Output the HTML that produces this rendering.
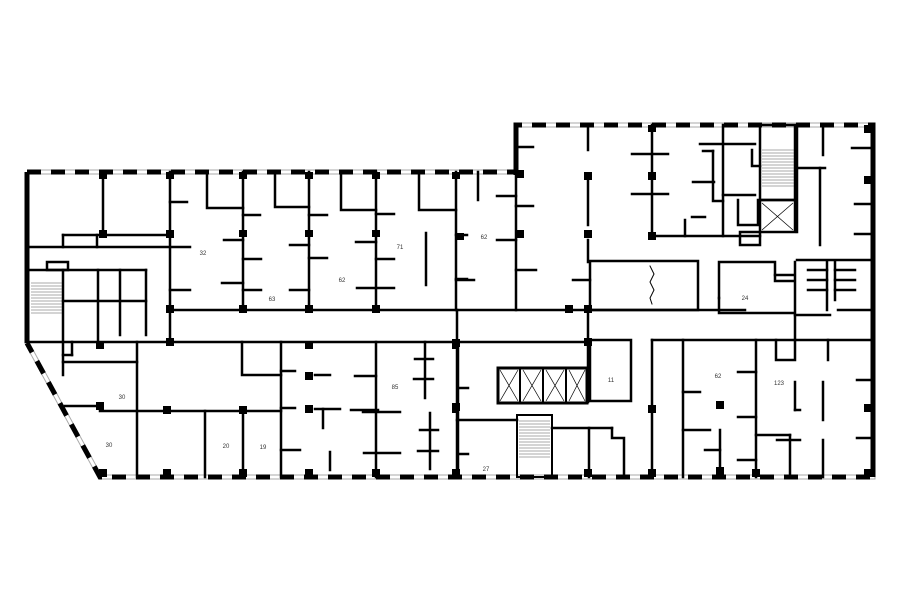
<!DOCTYPE html>
<html><head><meta charset="utf-8"><style>
html,body{margin:0;padding:0;background:#fff;}
svg{display:block;}
text{font-family:"Liberation Sans",sans-serif;font-size:6px;fill:#333;text-anchor:middle;}
</style></head><body>
<svg width="900" height="604" viewBox="0 0 900 604" xmlns="http://www.w3.org/2000/svg">
<rect width="900" height="604" fill="#fff"/>
<!-- outer outline with windows -->
<g fill="none">
<polyline points="27,172 516,172 516,125 873,125 873,477 100,477 27,343 27,172" stroke="#aaa" stroke-width="5"/>
<polyline points="27,172 516,172 516,125 873,125 873,477 100,477 27,343 27,172" stroke="#fff" stroke-width="3"/>
<polyline points="27,172 516,172 516,125 873,125 873,477 100,477 27,343" stroke="#000" stroke-width="5" stroke-dasharray="14,10"/>
<line x1="27" y1="172" x2="27" y2="343" stroke="#000" stroke-width="5"/>
<line x1="873" y1="125" x2="873" y2="477" stroke="#000" stroke-width="5"/>
<line x1="516" y1="125" x2="516" y2="175" stroke="#000" stroke-width="5"/>
</g>
<g stroke="#000" stroke-width="2.5" fill="none" stroke-linecap="square">
<!-- left wing -->
<line x1="103" y1="172" x2="103" y2="235"/>
<line x1="170" y1="172" x2="170" y2="342"/>
<line x1="63" y1="235" x2="170" y2="235"/>
<polyline points="63,247 63,235"/><line x1="97" y1="235" x2="97" y2="247"/>
<line x1="27" y1="247" x2="190" y2="247"/>
<line x1="27" y1="270" x2="146" y2="270"/>
<rect x="47" y="262" width="21" height="8"/>
<line x1="63" y1="270" x2="63" y2="375"/>
<line x1="98" y1="270" x2="98" y2="342"/>
<line x1="120" y1="270" x2="120" y2="335"/>
<line x1="146" y1="270" x2="146" y2="335"/>
<line x1="63" y1="301" x2="146" y2="301"/>
<line x1="27" y1="342" x2="170" y2="342"/>
<line x1="72" y1="342" x2="72" y2="355"/><line x1="63" y1="355" x2="72" y2="355"/>
<line x1="63" y1="362" x2="137" y2="362"/>
<line x1="137" y1="342" x2="137" y2="477"/>
<line x1="65" y1="406" x2="100" y2="406"/>
<line x1="100" y1="411" x2="281" y2="411"/>
<line x1="205" y1="411" x2="205" y2="477"/>
<line x1="243" y1="411" x2="243" y2="477"/>
<line x1="281" y1="342" x2="281" y2="477"/>
<polyline points="242,342 242,375 281,375"/>
<line x1="376" y1="342" x2="376" y2="477"/>
<line x1="458" y1="342" x2="458" y2="477"/>
<!-- corridor -->
<line x1="170" y1="310" x2="745" y2="310"/>
<line x1="170" y1="342" x2="588" y2="342"/>
<line x1="652" y1="340" x2="870" y2="340"/>
<!-- upper rooms left -->
<line x1="243" y1="172" x2="243" y2="310"/>
<line x1="309" y1="172" x2="309" y2="310"/>
<line x1="376" y1="172" x2="376" y2="310"/>
<line x1="456" y1="172" x2="456" y2="310"/>
<polyline points="207,172 207,208 243,208"/>
<polyline points="275,172 275,207 309,207"/>
<polyline points="341,172 341,210 376,210"/>
<polyline points="419,172 419,210 456,210"/>
<line x1="170" y1="202" x2="187" y2="202"/><line x1="170" y1="290" x2="190" y2="290"/>
<line x1="224" y1="240" x2="243" y2="240"/><line x1="222" y1="283" x2="243" y2="283"/>
<line x1="243" y1="215" x2="260" y2="215"/><line x1="243" y1="259" x2="261" y2="259"/><line x1="243" y1="290" x2="261" y2="290"/>
<line x1="290" y1="245" x2="309" y2="245"/><line x1="290" y1="290" x2="309" y2="290"/>
<line x1="309" y1="215" x2="327" y2="215"/><line x1="309" y1="258" x2="327" y2="258"/>
<line x1="356" y1="242" x2="376" y2="242"/><line x1="357" y1="288" x2="394" y2="288"/>
<line x1="376" y1="214" x2="394" y2="214"/><line x1="376" y1="259" x2="394" y2="259"/>
<line x1="426" y1="233" x2="426" y2="285"/>
<line x1="456" y1="235" x2="467" y2="235"/><line x1="456" y1="279" x2="467" y2="279"/>
<line x1="478" y1="172" x2="478" y2="200"/>
<line x1="497" y1="196" x2="516" y2="196"/><line x1="497" y1="240" x2="516" y2="240"/>
<line x1="456" y1="280" x2="474" y2="280"/>
<!-- lower left rooms -->
<line x1="281" y1="371" x2="295" y2="371"/><line x1="281" y1="408" x2="295" y2="408"/><line x1="281" y1="450" x2="300" y2="450"/>
<line x1="315" y1="375" x2="330" y2="375"/><line x1="315" y1="409" x2="340" y2="409"/>
<line x1="323" y1="409" x2="323" y2="428"/><line x1="330" y1="452" x2="330" y2="470"/>
<line x1="355" y1="376" x2="376" y2="376"/><line x1="351" y1="410" x2="378" y2="410"/>
<line x1="363" y1="412" x2="400" y2="412"/><line x1="364" y1="453" x2="400" y2="453"/>
<line x1="425" y1="342" x2="425" y2="398"/><line x1="415" y1="359" x2="433" y2="359"/><line x1="414" y1="379" x2="433" y2="379"/>
<line x1="430" y1="413" x2="430" y2="469"/><line x1="420" y1="430" x2="438" y2="430"/><line x1="418" y1="451" x2="438" y2="451"/>
<line x1="458" y1="388" x2="468" y2="388"/><line x1="458" y1="454" x2="468" y2="454"/>
<!-- right block -->
<line x1="516" y1="172" x2="516" y2="310"/>
<line x1="516" y1="147" x2="533" y2="147"/><line x1="516" y1="206" x2="533" y2="206"/><line x1="516" y1="270" x2="536" y2="270"/>
<line x1="588" y1="125" x2="588" y2="150"/><line x1="588" y1="180" x2="588" y2="225"/><line x1="588" y1="240" x2="588" y2="262"/>
<line x1="573" y1="280" x2="590" y2="280"/>
<line x1="652" y1="125" x2="652" y2="236"/>
<line x1="632" y1="154" x2="668" y2="154"/><line x1="632" y1="194" x2="668" y2="194"/>
<line x1="693" y1="182" x2="714" y2="182"/><line x1="692" y1="217" x2="705" y2="217"/>
<line x1="652" y1="236" x2="760" y2="236"/>
<line x1="685" y1="220" x2="685" y2="236"/>
<line x1="723" y1="125" x2="723" y2="236"/>
<line x1="700" y1="144" x2="755" y2="144"/>
<polyline points="713,151 713,201 723,201"/>
<polyline points="703,151 713,151"/>
<line x1="723" y1="195" x2="755" y2="195"/><polyline points="738,200 738,225 758,225 758,200"/>
<polyline points="752,150 752,166 760,166"/>
<rect x="760" y="125" width="35" height="75"/>
<rect x="760" y="200" width="35" height="32"/>
<rect x="740" y="232" width="20" height="13"/>
<line x1="797" y1="125" x2="797" y2="232"/>
<line x1="797" y1="168" x2="825" y2="168"/>
<line x1="820" y1="168" x2="820" y2="245"/>
<line x1="823" y1="125" x2="823" y2="155"/>
<line x1="852" y1="148" x2="873" y2="148"/><line x1="855" y1="204" x2="873" y2="204"/><line x1="855" y1="234" x2="873" y2="234"/>
<rect x="590" y="261" width="108" height="49"/>
<polyline points="650,266 654,274 650,282 654,290 650,298 652,304" stroke-width="1"/>
<polyline points="719,298 719,262 775,262 775,275 793,275"/>
<polyline points="775,275 775,281 793,281"/>
<polyline points="719,298 719,313 793,313"/>
<line x1="797" y1="260" x2="873" y2="260"/>
<line x1="795" y1="262" x2="795" y2="340"/>
<line x1="827" y1="262" x2="827" y2="310"/><line x1="835" y1="262" x2="835" y2="300"/>
<line x1="795" y1="315" x2="830" y2="315"/>
<line x1="808" y1="270" x2="827" y2="270"/><line x1="808" y1="280" x2="827" y2="280"/><line x1="808" y1="290" x2="827" y2="290"/>
<line x1="835" y1="270" x2="855" y2="270"/><line x1="835" y1="280" x2="855" y2="280"/><line x1="835" y1="290" x2="855" y2="290"/>
<line x1="838" y1="310" x2="873" y2="310"/>
<!-- lower right -->
<line x1="457" y1="310" x2="457" y2="477"/>
<line x1="588" y1="310" x2="588" y2="402"/>
<rect x="590" y="340" width="41" height="61"/>
<rect x="498" y="368" width="89" height="35" stroke-width="3"/>
<rect x="517" y="415" width="35" height="62" stroke-width="2"/>
<line x1="457" y1="420" x2="517" y2="420"/>
<line x1="552" y1="428" x2="612" y2="428"/>
<polyline points="612,428 612,438 624,438 624,477"/>
<line x1="589" y1="428" x2="589" y2="477"/>
<line x1="652" y1="340" x2="652" y2="477"/>
<line x1="683" y1="340" x2="683" y2="477"/>
<line x1="683" y1="392" x2="700" y2="392"/><line x1="683" y1="430" x2="710" y2="430"/>
<line x1="705" y1="450" x2="720" y2="450"/><line x1="720" y1="430" x2="720" y2="477"/>
<line x1="738" y1="372" x2="756" y2="372"/><line x1="738" y1="417" x2="756" y2="417"/><line x1="738" y1="460" x2="756" y2="460"/>
<line x1="756" y1="340" x2="756" y2="477"/>
<polyline points="776,340 776,360 795,360 795,340"/>
<line x1="828" y1="340" x2="828" y2="360"/>
<line x1="795" y1="382" x2="795" y2="410"/><line x1="795" y1="410" x2="800" y2="410"/>
<line x1="823" y1="382" x2="823" y2="420"/>
<line x1="823" y1="440" x2="823" y2="477"/>
<line x1="756" y1="435" x2="790" y2="435"/><line x1="790" y1="435" x2="790" y2="477"/>
<line x1="777" y1="440" x2="800" y2="440"/>
<line x1="857" y1="380" x2="873" y2="380"/><line x1="857" y1="438" x2="873" y2="438"/>
</g>
<!-- elevator X's -->
<g stroke="#000" stroke-width="0.7">
<line x1="500" y1="370" x2="518" y2="401"/><line x1="518" y1="370" x2="500" y2="401"/>
<line x1="523" y1="370" x2="541" y2="401"/><line x1="541" y1="370" x2="523" y2="401"/>
<line x1="546" y1="370" x2="564" y2="401"/><line x1="564" y1="370" x2="546" y2="401"/>
<line x1="569" y1="370" x2="585" y2="401"/><line x1="585" y1="370" x2="569" y2="401"/>
<line x1="520" y1="369" x2="520" y2="402" stroke-width="2"/><line x1="543" y1="369" x2="543" y2="402" stroke-width="2"/><line x1="566" y1="369" x2="566" y2="402" stroke-width="2"/>
<line x1="762" y1="203" x2="793" y2="230"/><line x1="793" y1="203" x2="762" y2="230"/>
</g>
<!-- stairs -->
<g stroke="#555" stroke-width="0.6">
<path d="M31 283H62M31 286H62M31 289H62M31 292H62M31 295H62M31 298H62M31 301H62M31 304H62M31 307H62M31 310H62M31 313H62"/>
<path d="M762 150H794M762 153H794M762 156H794M762 159H794M762 162H794M762 165H794M762 168H794M762 171H794M762 174H794M762 177H794M762 180H794M762 183H794M762 186H794"/>
<path d="M519 421H550M519 424H550M519 427H550M519 430H550M519 433H550M519 436H550M519 439H550M519 442H550M519 445H550M519 448H550M519 451H550M519 454H550M519 457H550"/>
</g>
<!-- pillars -->
<g fill="#000">
<rect x="99" y="172" width="8" height="7"/><rect x="166" y="172" width="8" height="7"/><rect x="99" y="230" width="8" height="8"/><rect x="166" y="230" width="8" height="8"/>
<rect x="166" y="305" width="8" height="8"/><rect x="166" y="338" width="8" height="8"/><rect x="239" y="305" width="8" height="8"/><rect x="305" y="305" width="8" height="8"/><rect x="372" y="305" width="8" height="8"/>
<rect x="239" y="230" width="8" height="7"/><rect x="305" y="230" width="8" height="7"/><rect x="372" y="230" width="8" height="7"/><rect x="456" y="233" width="8" height="7"/>
<rect x="239" y="172" width="8" height="7"/><rect x="305" y="172" width="8" height="7"/><rect x="372" y="172" width="8" height="7"/><rect x="452" y="172" width="8" height="7"/>
<rect x="96" y="342" width="8" height="7"/><rect x="305" y="342" width="8" height="7"/><rect x="452" y="342" width="7" height="7"/>
<rect x="96" y="402" width="8" height="8"/><rect x="163" y="406" width="8" height="8"/><rect x="239" y="406" width="8" height="8"/>
<rect x="305" y="372" width="8" height="8"/><rect x="305" y="405" width="8" height="8"/><rect x="452" y="405" width="7" height="8"/>
<rect x="99" y="469" width="8" height="8"/><rect x="163" y="469" width="8" height="8"/><rect x="239" y="469" width="8" height="8"/><rect x="305" y="469" width="8" height="8"/><rect x="372" y="469" width="8" height="8"/><rect x="452" y="469" width="8" height="8"/>
<rect x="516" y="170" width="8" height="8"/><rect x="516" y="230" width="8" height="8"/><rect x="584" y="172" width="8" height="8"/><rect x="584" y="230" width="8" height="8"/><rect x="648" y="172" width="8" height="8"/><rect x="648" y="232" width="8" height="8"/>
<rect x="648" y="125" width="8" height="7"/><rect x="864" y="125" width="8" height="8"/><rect x="864" y="176" width="8" height="8"/>
<rect x="565" y="305" width="8" height="8"/><rect x="584" y="305" width="8" height="8"/><rect x="584" y="338" width="8" height="8"/>
<rect x="452" y="339" width="8" height="8"/><rect x="452" y="403" width="8" height="8"/>
<rect x="648" y="405" width="8" height="8"/><rect x="716" y="401" width="8" height="8"/><rect x="716" y="467" width="8" height="8"/>
<rect x="584" y="469" width="8" height="8"/><rect x="648" y="469" width="8" height="8"/><rect x="752" y="469" width="8" height="8"/><rect x="864" y="469" width="8" height="8"/><rect x="864" y="404" width="8" height="8"/>
</g>
<!-- labels -->
<text x="203" y="255">32</text><text x="272" y="301">63</text><text x="342" y="282">62</text><text x="400" y="249">71</text><text x="484" y="239">62</text>
<text x="122" y="399">30</text><text x="109" y="447">30</text><text x="226" y="448">20</text><text x="263" y="449">19</text><text x="395" y="389">85</text>
<text x="611" y="382">11</text><text x="486" y="471">27</text><text x="745" y="300">24</text><text x="718" y="378">62</text><text x="779" y="385">123</text>
</svg>
</body></html>
